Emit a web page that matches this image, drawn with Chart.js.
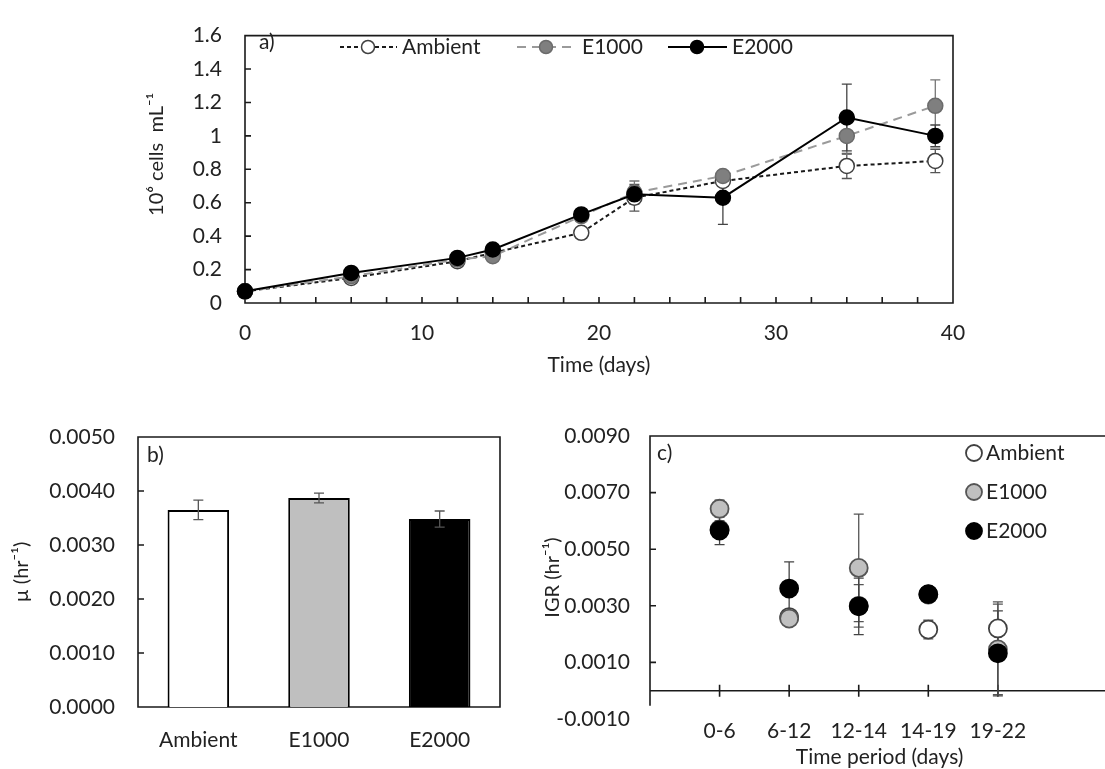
<!DOCTYPE html>
<html>
<head>
<meta charset="utf-8">
<title>Cell growth and growth rates under CO2 treatments</title>
<script src="https://cdn.jsdelivr.net/npm/chart.js@4.4.1/dist/chart.umd.min.js"></script>
<style>
  html, body { margin: 0; padding: 0; background: #fff; overflow: hidden; }
  #wrap { position: relative; width: 1105px; height: 769px; overflow: hidden; }
  canvas { position: absolute; }
</style>
</head>
<body>
<div id="wrap">
  <canvas id="cellsChart" width="1105" height="385" style="left:0px;top:0px"></canvas>
  <canvas id="muChart" width="520" height="369" style="left:0px;top:400px"></canvas>
  <canvas id="igrChart" width="600" height="380" style="left:520px;top:400px"></canvas>
</div>
<script>
// a) cell density (10^6 cells/mL) by sampling day
const days = [0, 6, 12, 14, 19, 22, 27, 34, 39];
const ambientCells = [0.07, 0.15, 0.25, 0.30, 0.42, 0.63, 0.73, 0.82, 0.85];
const e1000Cells = [0.07, 0.16, 0.26, 0.28, 0.52, 0.66, 0.76, 1.00, 1.18];
const e2000Cells = [0.07, 0.18, 0.27, 0.32, 0.53, 0.65, 0.63, 1.11, 1.00];
const ambientCellsErr = [0.005, 0.01, 0.01, 0.01, 0.015, 0.08, 0.03, 0.075, 0.07];
const e1000CellsErr = [0.005, 0.01, 0.01, 0.02, 0.02, 0.07, 0.03, 0.11, 0.155];
const e2000CellsErr = [0.005, 0.01, 0.01, 0.01, 0.02, 0.05, 0.16, 0.20, 0.065];

// b) specific growth rate over the whole run
const treatments = ['Ambient', 'E1000', 'E2000'];
const muMean = [0.00365, 0.00387, 0.00348];
const muErr = [0.00018, 0.00009, 0.00015];

// c) instantaneous growth rate per period
const periods = ['0-6', '6-12', '12-14', '14-19', '19-22'];
const igrAmbient = [0.0057, 0.0026, 0.0030, 0.00216, 0.0022];
const igrE1000 = [0.00643, 0.00255, 0.00434, 0.0034, 0.00146];
const igrE2000 = [0.00566, 0.00361, 0.00298, 0.00341, 0.00132];
const igrAmbientErr = [0.0003, 0.0002, 0.00075, 0.00033, 0.00094];
const igrE1000Err = [0.0003, 0.0002, 0.0019, 0.0002, 0.0016];
const igrE2000Err = [0.0005, 0.00094, 0.001, 0.0002, 0.0015];

const FONT = 'Lato, "Open Sans", sans-serif';
const INK = '#222';
Chart.defaults.font.family = FONT;
Chart.defaults.font.size = 21;
Chart.defaults.color = INK;
Chart.defaults.animation = false;

const points = (xs, ys) => xs.map((x, i) => ({ x, y: ys[i] }));

// axis box, inward tick marks, optional zero line
function axisFrame(o) {
  return {
    id: 'axisFrame',
    beforeDatasetsDraw(chart) {
      const { ctx, chartArea: a, scales: { x, y } } = chart;
      const len = o.tickLen || 6;
      const axisY = o.zeroLine ? y.getPixelForValue(0) : a.bottom;
      const leftEnd = o.box ? a.bottom : axisY + (o.leftOverrun || 0);
      ctx.save();
      ctx.strokeStyle = '#1a1a1a';
      ctx.lineWidth = 1.6;
      ctx.beginPath();
      if (o.box) {
        ctx.rect(a.left, a.top, a.width, a.height);
      } else {
        ctx.moveTo(a.right + 20, a.top);
        ctx.lineTo(a.left, a.top);
        ctx.lineTo(a.left, leftEnd);
        ctx.moveTo(a.left, axisY);
        ctx.lineTo(a.right + 20, axisY);
      }
      y.ticks.forEach(t => {
        const py = y.getPixelForValue(t.value);
        if (py > leftEnd + 0.5) return;
        ctx.moveTo(a.left, py);
        ctx.lineTo(a.left + len, py);
      });
      if (o.xTicks) {
        x.ticks.forEach(t => {
          const px = x.getPixelForValue(t.value);
          ctx.moveTo(px, axisY + (o.xTicks === 'cross' ? len : 0));
          ctx.lineTo(px, axisY - len);
        });
      }
      ctx.stroke();
      ctx.restore();
    }
  };
}

// vertical error bars from each dataset's `errors` array
function errorBars(o) {
  const draw = chart => {
    const { ctx, scales: { y } } = chart;
    ctx.save();
    ctx.lineWidth = o.lineWidth || 1.3;
    chart.data.datasets.forEach((ds, i) => {
      if (!ds.errors) return;
      const meta = chart.getDatasetMeta(i);
      ctx.strokeStyle = ds.errorColor || '#555';
      ctx.beginPath();
      meta.data.forEach((el, j) => {
        const raw = ds.data[j];
        const v = typeof raw === 'object' ? raw.y : raw;
        const top = y.getPixelForValue(v + ds.errors[j]);
        const bot = y.getPixelForValue(v - ds.errors[j]);
        const w = o.cap || 5;
        ctx.moveTo(el.x, top); ctx.lineTo(el.x, bot);
        ctx.moveTo(el.x - w, top); ctx.lineTo(el.x + w, top);
        ctx.moveTo(el.x - w, bot); ctx.lineTo(el.x + w, bot);
      });
      ctx.stroke();
    });
    ctx.restore();
  };
  return {
    id: 'errorBars',
    beforeDatasetsDraw(chart) { if (!o.onTop) draw(chart); },
    afterDatasetsDraw(chart) { if (o.onTop) draw(chart); }
  };
}

// panel letter and in-plot legend
function panelText(o) {
  return {
    id: 'panelText',
    afterDraw(chart) {
      const ctx = chart.ctx;
      ctx.save();
      ctx.font = '21px ' + FONT;
      ctx.fillStyle = INK;
      ctx.textBaseline = 'middle';
      ctx.fillText(o.tag, o.tagX, o.tagY);
      (o.legend || []).forEach(item => {
        const ds = chart.data.datasets[item.dataset];
        if (item.x1 != null) {
          ctx.save();
          ctx.strokeStyle = ds.borderColor;
          ctx.lineWidth = ds.borderWidth;
          ctx.setLineDash(ds.borderDash || []);
          ctx.beginPath();
          ctx.moveTo(item.x1, item.y);
          ctx.lineTo(item.x2, item.y);
          ctx.stroke();
          ctx.restore();
        }
        ctx.beginPath();
        ctx.arc(item.mx, item.y, item.r || ds.pointRadius, 0, Math.PI * 2);
        ctx.fillStyle = ds.pointBackgroundColor;
        ctx.fill();
        ctx.lineWidth = ds.pointBorderWidth;
        ctx.strokeStyle = ds.pointBorderColor;
        ctx.stroke();
        ctx.fillStyle = INK;
        ctx.fillText(ds.label, item.tx, item.y);
      });
      ctx.restore();
    }
  };
}

const quiet = { legend: { display: false }, tooltip: { enabled: false } };
const noGrid = { display: false, drawTicks: false };

// a) growth curves
new Chart(document.getElementById('cellsChart'), {
  type: 'line',
  data: {
    datasets: [
      {
        label: 'Ambient', data: points(days, ambientCells), errors: ambientCellsErr, errorColor: '#555',
        borderColor: '#1a1a1a', borderWidth: 2, borderDash: [4, 3],
        pointRadius: 7.5, pointBackgroundColor: '#fff', pointBorderColor: '#404040', pointBorderWidth: 1.5,
        order: 3, clip: false
      },
      {
        label: 'E1000', data: points(days, e1000Cells), errors: e1000CellsErr, errorColor: '#777',
        borderColor: '#9a9a9a', borderWidth: 2, borderDash: [9, 6],
        pointRadius: 7.5, pointBackgroundColor: '#7f7f7f', pointBorderColor: '#6b6b6b', pointBorderWidth: 1.5,
        order: 2, clip: false
      },
      {
        label: 'E2000', data: points(days, e2000Cells), errors: e2000CellsErr, errorColor: '#444',
        borderColor: '#000', borderWidth: 2,
        pointRadius: 7.5, pointBackgroundColor: '#000', pointBorderColor: '#000', pointBorderWidth: 1.5,
        order: 1, clip: false
      }
    ]
  },
  options: {
    responsive: false,
    layout: { padding: { left: 141, top: 22, right: 152, bottom: 3 } },
    scales: {
      x: {
        type: 'linear', min: 0, max: 40,
        grid: noGrid, border: { display: false },
        ticks: { stepSize: 2, autoSkip: false, maxRotation: 0, padding: 18,
                 callback: v => (v % 10 === 0 ? v : '') },
        title: { display: true, text: 'Time (days)' },
        afterFit: s => { s.height = 79; }
      },
      y: {
        min: 0, max: 1.6,
        grid: noGrid, border: { display: false },
        ticks: { stepSize: 0.2, padding: 23, callback: v => String(Math.round(v * 10) / 10) },
        title: { display: true, text: '\u2003\u200310\u2076 cells  mL\u207B\u00B9', font: { size: 20 } },
        afterFit: s => { s.width = 104; }
      }
    },
    plugins: quiet
  },
  plugins: [
    axisFrame({ box: true, xTicks: 'up', tickLen: 6 }),
    errorBars({ cap: 5 }),
    panelText({
      tag: 'a)', tagX: 259, tagY: 42,
      legend: [
        { dataset: 0, x1: 340, x2: 397, mx: 368, tx: 402, y: 47, r: 6.5 },
        { dataset: 1, x1: 517, x2: 577, mx: 546, tx: 582, y: 47, r: 6.5 },
        { dataset: 2, x1: 668, x2: 727, mx: 697, tx: 732, y: 47, r: 6.5 }
      ]
    })
  ]
});

// b) mean growth rate per treatment
new Chart(document.getElementById('muChart'), {
  type: 'bar',
  data: {
    labels: treatments,
    datasets: [{
      data: muMean, errors: muErr, errorColor: '#555',
      backgroundColor: ['#ffffff', '#bfbfbf', '#000000'],
      borderColor: '#000', borderWidth: 2,
      barPercentage: 0.51, categoryPercentage: 1
    }]
  },
  options: {
    responsive: false,
    layout: { padding: { left: 6, top: 37, right: 20, bottom: 0 } },
    scales: {
      x: {
        grid: noGrid, border: { display: false },
        ticks: { padding: 21 },
        afterFit: s => { s.height = 62; }
      },
      y: {
        min: 0, max: 0.005,
        grid: noGrid, border: { display: false },
        ticks: { stepSize: 0.001, padding: 23, callback: v => v.toFixed(4) },
        title: { display: true, text: '\u00B5 (hr\u207B\u00B9)', font: { size: 20 } },
        afterFit: s => { s.width = 132; }
      }
    },
    plugins: quiet
  },
  plugins: [
    axisFrame({ box: true }),
    errorBars({ cap: 5, onTop: true }),
    panelText({ tag: 'b)', tagX: 147, tagY: 55 })
  ]
});

// c) growth rate for each time period
new Chart(document.getElementById('igrChart'), {
  type: 'scatter',
  data: {
    datasets: [
      {
        label: 'Ambient', data: points([1, 2, 3, 4, 5], igrAmbient), errors: igrAmbientErr, errorColor: '#555',
        pointRadius: 9, pointBackgroundColor: '#fff', pointBorderColor: '#404040', pointBorderWidth: 1.8,
        order: 3, clip: false
      },
      {
        label: 'E1000', data: points([1, 2, 3, 4, 5], igrE1000), errors: igrE1000Err, errorColor: '#555',
        pointRadius: 9, pointBackgroundColor: '#c0c0c0', pointBorderColor: '#555', pointBorderWidth: 1.8,
        order: 2, clip: false
      },
      {
        label: 'E2000', data: points([1, 2, 3, 4, 5], igrE2000), errors: igrE2000Err, errorColor: '#444',
        pointRadius: 9, pointBackgroundColor: '#000', pointBorderColor: '#000', pointBorderWidth: 1.8,
        order: 1, clip: false
      }
    ]
  },
  options: {
    responsive: false,
    layout: { padding: { left: 17, top: 36, right: 8, bottom: 6 } },
    scales: {
      x: {
        type: 'linear', min: 0, max: 6.6,
        grid: noGrid, border: { display: false },
        afterBuildTicks: s => { s.ticks = periods.map((p, i) => ({ value: i + 1 })); },
        ticks: { autoSkip: false, maxRotation: 0, padding: 0, callback: v => periods[v - 1] || '' },
        title: { display: true, text: 'Time period (days)' },
        afterFit: s => { s.height = 55; }
      },
      y: {
        min: -0.001, max: 0.009,
        grid: noGrid, border: { display: false },
        ticks: { stepSize: 0.002, padding: 20, callback: v => v.toFixed(4) },
        title: { display: true, text: 'IGR (hr\u207B\u00B9)', font: { size: 20 } },
        afterFit: s => { s.width = 113; }
      }
    },
    plugins: quiet
  },
  plugins: [
    axisFrame({ box: false, zeroLine: true, xTicks: 'cross', tickLen: 6, leftOverrun: 15 }),
    errorBars({ cap: 5 }),
    panelText({
      tag: 'c)', tagX: 137, tagY: 53,
      legend: [
        { dataset: 0, mx: 454, tx: 466, y: 53, r: 8 },
        { dataset: 1, mx: 454, tx: 466, y: 92, r: 8 },
        { dataset: 2, mx: 454, tx: 466, y: 131, r: 8 }
      ]
    })
  ]
});
</script>
</body>
</html>
